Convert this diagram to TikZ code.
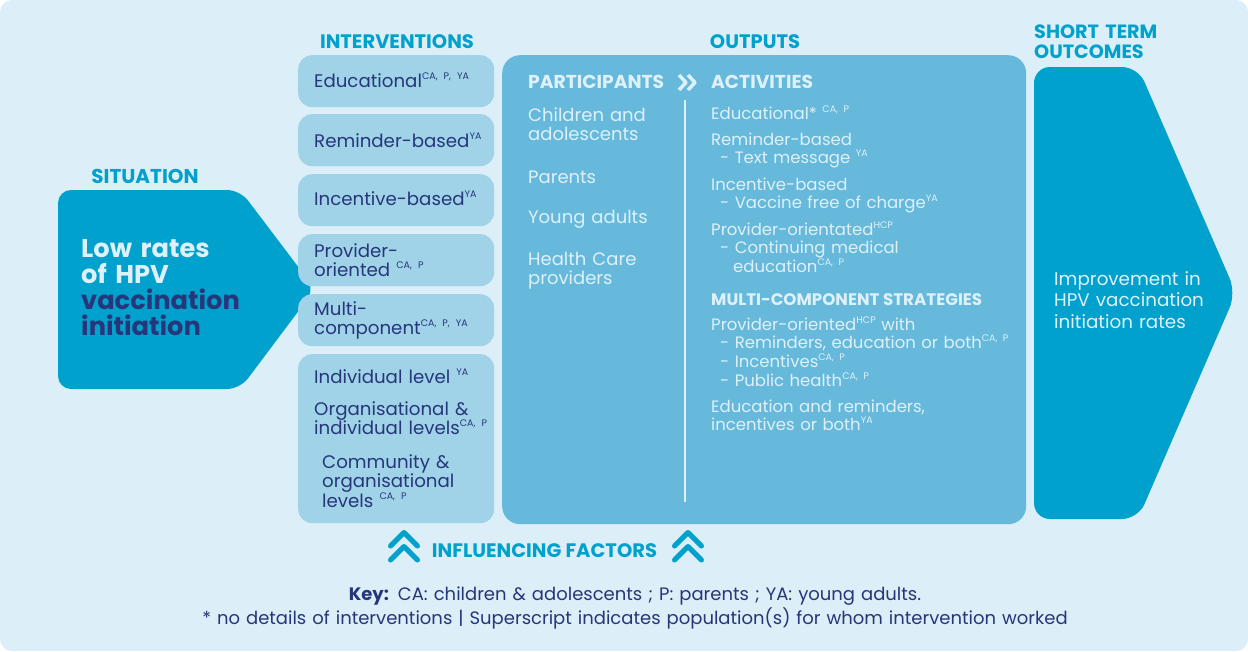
\documentclass[tikz,border=0pt]{standalone}
\usepackage{fontspec}
\setmainfont{Poppins}
\definecolor{bgblue}{RGB}{220,238,247}
\definecolor{sitblue}{RGB}{0,161,205}
\definecolor{boxblue}{RGB}{160,211,232}
\definecolor{outblue}{RGB}{102,185,218}
\definecolor{navytext}{RGB}{38,54,122}
\definecolor{paletext}{RGB}{222,241,250}
\usetikzlibrary{positioning, calc}
\newcommand{\grp}[1]{\raisebox{0.42em}{\fontsize{9.5}{9.5}\selectfont #1}}

\tikzset{
  heading/.style={font=\fontsize{19.5}{20}\selectfont\bfseries, text=sitblue, inner sep=0pt, anchor=base},
  ibox/.style={fill=boxblue, rounded corners=14pt, minimum width=196pt, inner sep=0pt, anchor=north west},
  itext/.style={font=\fontsize{18.2}{19.5}\selectfont, text=navytext, inner sep=0pt, anchor=base west, text width=185pt, align=left},
  ptext/.style={font=\fontsize{18}{19.5}\selectfont, text=paletext, inner sep=0pt, anchor=base west, text width=150pt, align=left},
  atext/.style={font=\fontsize{16.5}{18.8}\selectfont, text=paletext, inner sep=0pt, anchor=base west, text width=310pt, align=left},
  chev/.style={draw=sitblue, line width=5pt, line cap=round, line join=round},
}

\begin{document}
\begin{tikzpicture}[x=1pt, y=-1pt]
  \useasboundingbox (0,0) rectangle (1248,651);
  \fill[white] (0,0) rectangle (1248,651);
  \fill[bgblue, rounded corners=12pt] (0,0) rectangle (1248,651);

  % Situation
  \node[heading, font=\fontsize{20}{20}\selectfont\bfseries] (sithead) at (145,183) {SITUATION};
  \fill[sitblue, rounded corners=13pt] (58,190) -- (240,190) -- (315,289) -- (240,389) -- (58,389) -- cycle;
  \node[font=\fontsize{25.7}{26}\selectfont\bfseries, inner sep=0pt, anchor=base west, text width=200pt, align=left] (sittext) at (81,257) {
    \textcolor{paletext}{Low rates}\\
    \textcolor{paletext}{of HPV}\\
    \textcolor{navytext}{vaccination}\\
    \textcolor{navytext}{initiation}
  };

  % Interventions
  \node[heading] (inthead) at (397,48) {INTERVENTIONS};
  \node[ibox, minimum height=52pt] (edubox) at (298,55) {};
  \node[ibox, minimum height=52pt] (rembox) at (298,114) {};
  \node[ibox, minimum height=52pt] (incbox) at (298,174) {};
  \node[ibox, minimum height=52pt] (probox) at (298,234) {};
  \node[ibox, minimum height=52pt] (mulbox) at (298,294) {};
  \node[ibox, minimum height=169pt] (lvlbox) at (298,354) {};

  \node[itext] (edutext) at (314,87) {Educational\grp{CA, P, YA}};
  \node[itext] (remtext) at (314,147) {Reminder-based\grp{YA}};
  \node[itext] (inctext) at (314,205) {Incentive-based\grp{YA}};
  \node[itext] (protext) at (314,257) {Provider-\\oriented \grp{CA, P}};
  \node[itext] (multext) at (314,315) {Multi-\\component\grp{CA, P, YA}};
  \node[itext] (indtext) at (314,383) {Individual level \grp{YA}};
  \node[itext] (orgtext) at (314,415) {Organisational \&\\individual levels\grp{CA, P}};
  \node[itext, text width=165pt] (comtext) at (322,468) {Community \&\\organisational\\levels \grp{CA, P}};

  % Outputs
  \node[heading] (outhead) at (755,48) {OUTPUTS};
  \node[fill=outblue, rounded corners=18pt, minimum width=524pt, minimum height=469pt, inner sep=0pt, anchor=north west] (outbox) at (502,55) {};
  \node[font=\fontsize{18.7}{20}\selectfont\bfseries, text=paletext, inner sep=0pt, anchor=base west] (parthead) at (528,88) {PARTICIPANTS};
  \node[font=\fontsize{18.7}{20}\selectfont\bfseries, text=paletext, inner sep=0pt, anchor=base west] (acthead) at (711,88) {ACTIVITIES};
  \draw[paletext, line width=3.5pt, line join=round] (679,75) -- (686,82.5) -- (679,90);
  \draw[paletext, line width=3.5pt, line join=round] (688,75) -- (695,82.5) -- (688,90);
  \draw[paletext, line width=2pt] (685,100) -- (685,502);

  \node[ptext] (kids) at (528,121) {Children and\\adolescents};
  \node[ptext] (parents) at (528,183) {Parents};
  \node[ptext] (young) at (528,223) {Young adults};
  \node[ptext] (hcp) at (528,265) {Health Care\\providers};

  \node[atext] (acedu) at (711,119) {Educational* \grp{CA, P}};
  \node[atext] (acrem) at (711,145) {Reminder-based\\\hspace*{9pt}- Text message \grp{YA}};
  \node[atext] (acinc) at (711,190) {Incentive-based\\\hspace*{9pt}- Vaccine free of charge\grp{YA}};
  \node[atext] (acpro) at (711,235) {Provider-orientated\grp{HCP}\\\hspace*{9pt}- Continuing medical\\\hspace*{22pt}education\grp{CA, P}};
  \node[font=\fontsize{16.7}{18}\selectfont\bfseries, text=paletext, inner sep=0pt, anchor=base west] (mchead) at (711,305) {MULTI-COMPONENT STRATEGIES};
  \node[atext] (acmul) at (711,330) {Provider-oriented\grp{HCP} with\\\hspace*{9pt}- Reminders, education or both\grp{CA, P}\\\hspace*{9pt}- Incentives\grp{CA, P}\\\hspace*{9pt}- Public health\grp{CA, P}};
  \node[atext] (acboth) at (711,412) {Education and reminders,\\incentives or both\grp{YA}};

  % Short term outcomes
  \node[font=\fontsize{19.2}{20}\selectfont\bfseries, text=sitblue, inner sep=0pt, anchor=base west, text width=150pt, align=left] (outchead) at (1034,38) {SHORT TERM\\OUTCOMES};
  \fill[sitblue, rounded corners=16pt] (1034,67) -- (1138,67) -- (1236,293) -- (1138,519) -- (1034,519) -- cycle;
  \node[font=\fontsize{18.3}{21.5}\selectfont, text=paletext, inner sep=0pt, anchor=base west, text width=180pt, align=left] (outctext) at (1054,285) {Improvement in\\HPV vaccination\\initiation rates};

  % Influencing factors
  \draw[chev] (390.5,546) -- (404,532.5) -- (417.5,546);
  \draw[chev] (390.5,560) -- (404,546.5) -- (417.5,560);
  \node[heading] (inflhead) at (544.5,557) {INFLUENCING FACTORS};
  \draw[chev] (674.5,546) -- (688,532.5) -- (701.5,546);
  \draw[chev] (674.5,560) -- (688,546.5) -- (701.5,560);

  % Key
  \node[font=\fontsize{18}{24}\selectfont, text=navytext, inner sep=0pt, anchor=base, text width=1100pt, align=center] (keytext) at (635,600) {
    \textbf{Key:} CA: children \& adolescents ; P: parents ; YA: young adults.\\
    {*} no details of interventions | Superscript indicates population(s) for whom intervention worked
  };
\end{tikzpicture}
\end{document}
